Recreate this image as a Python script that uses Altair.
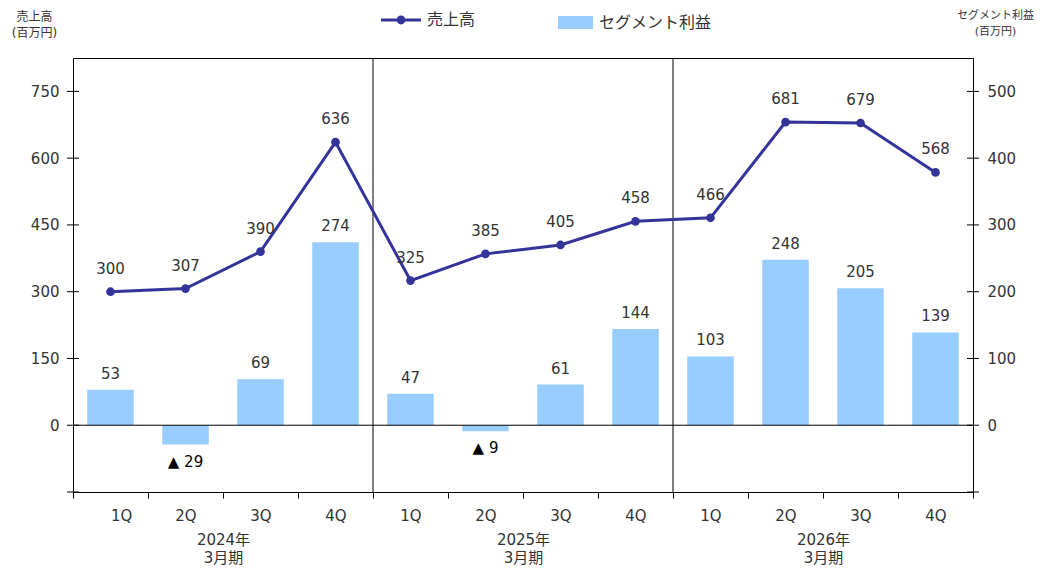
import altair as alt
import pandas as pd

quarters = ["1Q", "2Q", "3Q", "4Q"] * 3
sales = [300, 307, 390, 636, 325, 385, 405, 458, 466, 681, 679, 568]
profit = [53, -29, 69, 274, 47, -9, 61, 144, 103, 248, 205, 139]
fiscal_years = [["2024年", "3月期"], ["2025年", "3月期"], ["2026年", "3月期"]]
left_ticks = [-150, 0, 150, 300, 450, 600, 750]
right_ticks = [-100, 0, 100, 200, 300, 400, 500]
separators = [4, 8]

LINE_C = "#333399"
BAR_C = "#99CCFF"
TXT_C = "#333333"
FONT = "DejaVu Sans, Noto Sans CJK JP"

df = pd.DataFrame({"idx": list(range(12)), "q": quarters, "sales": sales, "profit": profit})
df["series"] = "売上高"
df["series2"] = "セグメント利益"
df["plabel"] = [("▲ " + str(abs(v))) if v < 0 else str(v) for v in profit]

base = alt.Chart(df).transform_calculate(
    xc="datum.idx + 0.5", x0="datum.idx + 0.19", x1="datum.idx + 0.81"
)
xscale = alt.Scale(domain=[0, 12], nice=False, zero=False)
yL = alt.Scale(domain=[-150, 825], nice=False, zero=False)
yR = alt.Scale(domain=[-100, 550], nice=False, zero=False)

q_expr = "['1Q','2Q','3Q','4Q'][floor(datum.value) % 4]"
x_axis_q = alt.Axis(values=list(range(13)), orient="bottom", tickSize=6, tickColor="black",
                    domain=False, grid=False, labelOffset=37.5, labelFontSize=15,
                    labelColor=TXT_C, labelFont=FONT, labelPadding=10, title=None,
                    labelExpr="datum.value >= 12 ? '' : " + q_expr)
fy_expr = ("datum.value == 2 ? " + str(fiscal_years[0]) + " : (datum.value == 6 ? "
           + str(fiscal_years[1]) + " : " + str(fiscal_years[2]) + ")")
x_axis_fy = alt.Axis(values=[2, 6, 10], orient="bottom", ticks=False, domain=False, grid=False,
                     labelFontSize=15, labelColor=TXT_C, labelFont=FONT, labelPadding=40,
                     labelLineHeight=18, title=None, labelExpr=fy_expr)

# left group
line = base.mark_line(strokeWidth=3).encode(
    x=alt.X("xc:Q", scale=xscale, axis=x_axis_q),
    y=alt.Y("sales:Q", scale=yL, axis=alt.Axis(
        values=left_ticks, ticks=False, domain=False, grid=False, labelFontSize=15,
        labelColor=TXT_C, labelFont=FONT, labelPadding=14,
        labelExpr="datum.value < 0 ? '' : datum.label",
        title=["売上高", "(百万円)"], titleAngle=0, titleAlign="center", titleBaseline="top",
        titleX=-39, titleY=-47, titleFontSize=12, titleFontWeight="normal",
        titleColor=TXT_C, titleFont=FONT, titleLineHeight=16)),
    stroke=alt.Stroke("series:N", scale=alt.Scale(domain=["売上高"], range=[LINE_C]),
                      legend=alt.Legend(orient="none", legendX=308, legendY=-58, title=None,
                                        labelFontSize=16, labelColor=TXT_C, labelFont=FONT,
                                        symbolType="M-1,-0.07L1,-0.07L1,0.07L-1,0.07Z M0.22,0A0.22,0.22,0,1,1,-0.22,0A0.22,0.22,0,1,1,0.22,0Z",
                                        symbolSize=1600, symbolFillColor=LINE_C,
                                        symbolStrokeWidth=0, labelOffset=6)),
)
points = base.mark_circle(size=75, color=LINE_C, opacity=1).encode(
    x=alt.X("xc:Q", scale=xscale), y=alt.Y("sales:Q", scale=yL))
sales_text = base.mark_text(baseline="bottom", dy=-15, fontSize=15, color=TXT_C, font=FONT).encode(
    x=alt.X("xc:Q", scale=xscale), y=alt.Y("sales:Q", scale=yL), text="sales:Q")
zero = alt.Chart(pd.DataFrame({"z": [0]})).mark_rule(color="black", strokeWidth=1).encode(
    y=alt.Y("z:Q", scale=yL))
seps = alt.Chart(pd.DataFrame({"s": separators})).mark_rule(color="black", strokeWidth=1).encode(
    x=alt.X("s:Q", scale=xscale))
lticks = alt.Chart(pd.DataFrame({"t": left_ticks})).mark_tick(
    orient="horizontal", size=12, thickness=1, color="black", opacity=1).encode(
    x=alt.datum(0, scale=xscale), y=alt.Y("t:Q", scale=yL))

left = alt.layer(zero, seps, line, points, sales_text, lticks)

# right group
bars = base.mark_bar().encode(
    x=alt.X("x0:Q", scale=xscale, axis=x_axis_fy), x2="x1:Q",
    y=alt.Y("profit:Q", scale=yR, axis=alt.Axis(
        values=right_ticks, ticks=False, domain=False, grid=False, labelFontSize=15,
        labelColor=TXT_C, labelFont=FONT, labelPadding=14, orient="right",
        labelExpr="datum.value < 0 ? '' : datum.label",
        title=["セグメント利益", "(百万円)"], titleAngle=0, titleAlign="center", titleBaseline="top",
        titleX=22, titleY=-49, titleFontSize=11, titleFontWeight="normal",
        titleColor=TXT_C, titleFont=FONT, titleLineHeight=16)),
    y2=alt.datum(0),
    fill=alt.Fill("series2:N", scale=alt.Scale(domain=["セグメント利益"], range=[BAR_C]),
                  legend=alt.Legend(orient="none", legendX=485, legendY=-53, title=None,
                                    labelFontSize=16, labelColor=TXT_C, labelFont=FONT,
                                    symbolType="M-1,-0.37L1,-0.37L1,0.37L-1,0.37Z",
                                    symbolSize=1225, symbolStrokeWidth=0, labelOffset=6)),
)
pos_text = base.transform_filter("datum.profit >= 0").mark_text(
    baseline="bottom", dy=-8, fontSize=15, color=TXT_C, font=FONT).encode(
    x=alt.X("xc:Q", scale=xscale), y=alt.Y("profit:Q", scale=yR), text="plabel:N")
neg_text = base.transform_filter("datum.profit < 0").mark_text(
    baseline="top", dy=10, fontSize=15, color="black", font=FONT).encode(
    x=alt.X("xc:Q", scale=xscale), y=alt.Y("profit:Q", scale=yR), text="plabel:N")
rticks = alt.Chart(pd.DataFrame({"t": right_ticks})).mark_tick(
    orient="horizontal", size=12, thickness=1, color="black", opacity=1).encode(
    x=alt.datum(12, scale=xscale), y=alt.Y("t:Q", scale=yR))

right = alt.layer(bars, pos_text, neg_text, rticks)

chart = alt.layer(right, left).resolve_scale(
    y="independent", stroke="independent", fill="independent").resolve_axis(
    x="independent", y="independent").properties(
    width=900, height=434,
    autosize=alt.AutoSizeParams(type="none"),
    padding={"left": 65, "top": 50, "right": 64, "bottom": 75},
    background="white",
).configure_view(stroke="black", strokeWidth=1)

chart.save("out.html", embed_options={"renderer": "svg", "actions": False})
